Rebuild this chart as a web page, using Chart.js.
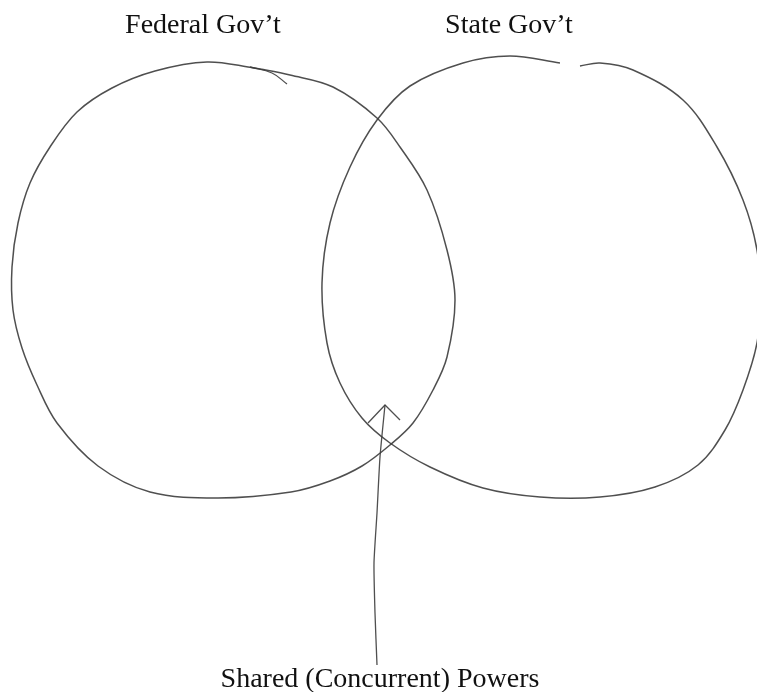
<!DOCTYPE html>
<html>
<head>
<meta charset="utf-8">
<script src="https://cdn.jsdelivr.net/npm/chart.js@4/dist/chart.umd.min.js"></script>
<style>
  html, body { margin: 0; padding: 0; background: #ffffff; }
  #wrap { width: 757px; height: 692px; position: relative; }
</style>
</head>
<body>
<div id="wrap"><canvas id="c"></canvas></div>
<script>
// Labels
const circleLabels = ["Federal Gov’t", "State Gov’t"];
const overlapLabel = "Shared (Concurrent) Powers";

// Hand-drawn outline of the Federal Gov't circle (x, y)
const federalX = [255,207,155,112,77,50,30,18,12,13,22,37,57,98,150,218,291,330,362,390,413,433,447,455,447,427,400,377,333,290,255];
const federalY = [68,62,71,88,112,147,183,223,267,310,348,385,423,466,492,498,492,481,466,445,423,390,357,300,250,190,147,118,87,75,68];
// small overlapping stroke at the top of the Federal circle
const federalHookX = [250,272,287];
const federalHookY = [67,73,84];

// Hand-drawn outline of the State Gov't circle (open at the top)
const stateX = [580,600,633,683,717,743,757,760,757,743,725,698,655,600,540,483,430,390,362,340,327,322,330,350,377,410,463,510,560];
const stateY = [66,63,70,100,147,200,250,297,343,390,430,465,487,497,497,488,467,443,418,383,343,283,223,167,120,86,63,56,63];

// Arrow pointing into the overlap
const arrowX = [377,375,374,377,380,385];
const arrowY = [665,613,563,513,457,405];
const arrowHeadX = [368,385,400];
const arrowHeadY = [423,405,420];

function pts(xs, ys) { return xs.map((x, i) => ({ x: x, y: ys[i] })); }

const pencil = 'rgba(60,60,60,0.9)';
function lineSet(xs, ys, tension, width) {
  return {
    data: pts(xs, ys),
    showLine: true,
    borderColor: pencil,
    borderWidth: width,
    pointRadius: 0,
    pointHoverRadius: 0,
    fill: false,
    tension: tension,
    clip: false
  };
}

const textPlugin = {
  id: 'venntext',
  afterDraw(chart) {
    const ctx = chart.ctx;
    const xs = chart.scales.x, ys = chart.scales.y;
    ctx.save();
    ctx.fillStyle = '#111';
    ctx.font = '28px "Liberation Serif", "Times New Roman", serif';
    ctx.textAlign = 'center';
    ctx.textBaseline = 'alphabetic';
    ctx.fillText(circleLabels[0], xs.getPixelForValue(203), ys.getPixelForValue(33));
    ctx.fillText(circleLabels[1], xs.getPixelForValue(509), ys.getPixelForValue(33));
    ctx.fillText(overlapLabel, xs.getPixelForValue(380), ys.getPixelForValue(687));
    ctx.restore();
  }
};

new Chart(document.getElementById('c'), {
  type: 'scatter',
  data: {
    datasets: [
      lineSet(federalX, federalY, 0.35, 1.5),
      lineSet(federalHookX, federalHookY, 0.4, 1.3),
      lineSet(stateX, stateY, 0.35, 1.5),
      lineSet(arrowX, arrowY, 0.2, 1.3),
      lineSet(arrowHeadX, arrowHeadY, 0, 1.3)
    ]
  },
  options: {
    responsive: true,
    maintainAspectRatio: false,
    animation: false,
    layout: { padding: 0 },
    plugins: { legend: { display: false }, tooltip: { enabled: false }, title: { display: false } },
    events: [],
    scales: {
      x: { type: 'linear', min: 0, max: 757, display: false },
      y: { type: 'linear', min: 0, max: 692, reverse: true, display: false }
    }
  },
  plugins: [textPlugin]
});
</script>
</body>
</html>
